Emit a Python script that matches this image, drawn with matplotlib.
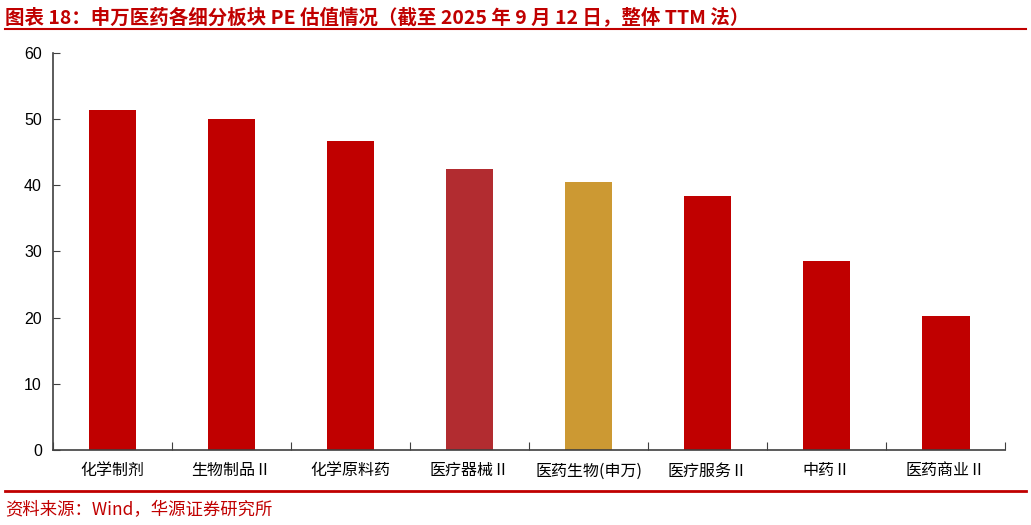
import matplotlib
matplotlib.use('Agg')
import matplotlib.pyplot as plt
from matplotlib.lines import Line2D

plt.rcParams['font.family'] = ['Liberation Sans', 'Noto Sans CJK SC', 'DejaVu Sans']

# données
categories = ['化学制剂', '生物制品Ⅱ', '化学原料药', '医疗器械Ⅱ', '医药生物(申万)', '医疗服务Ⅱ', '中药Ⅱ', '医药商业Ⅱ']
pe_values = [51.4, 50.0, 46.7, 42.4, 40.5, 38.4, 28.5, 20.3]
bar_colors = ['#C00000', '#C00000', '#C00000', '#B22C30', '#CC9933', '#C00000', '#C00000', '#C00000']

title_text = '图表 18：申万医药各细分板块 PE 估值情况（截至 2025 年 9 月 12 日，整体 TTM 法）'
source_text = '资料来源：Wind，华源证券研究所'

fig = plt.figure(figsize=(10.31, 5.25), dpi=100)
ax = fig.add_axes([0.0514, 0.143, 0.9236, 0.756])

x = range(len(categories))
ax.bar(x, pe_values, width=0.4, color=bar_colors, edgecolor='none')

ax.set_xlim(-0.5, len(categories) - 0.5)
ax.set_ylim(0, 60)
ax.set_yticks(range(0, 61, 10))
# graduations majeures entre les catégories, libellés sur les mineures
ax.set_xticks([i + 0.5 for i in range(-1, len(categories))])
ax.set_xticklabels([])
ax.set_xticks(list(x), minor=True)
ax.set_xticklabels(categories, minor=True, fontsize=11.5,
                   family=['Noto Sans CJK SC', 'DejaVu Sans'])
ax.tick_params(axis='x', which='major', direction='in', length=6, color='#404040')
ax.tick_params(axis='x', which='minor', length=0, pad=9)
ax.tick_params(axis='y', direction='in', length=5, labelsize=11.5, color='#404040', pad=8)

for side in ['top', 'right']:
    ax.spines[side].set_visible(False)
for side in ['left', 'bottom']:
    ax.spines[side].set_color('#404040')
    ax.spines[side].set_linewidth(1.2)

# titre et lignes rouges
fig.text(0.005, 0.968, title_text, fontsize=14, fontweight='bold', color='#C00000',
         family=['Noto Sans CJK SC', 'DejaVu Sans'], va='center', ha='left')
fig.add_artist(Line2D([0.005, 0.995], [0.945, 0.945], color='#C00000', lw=1.5))
fig.add_artist(Line2D([0.005, 0.995], [0.065, 0.065], color='#C00000', lw=2))
fig.text(0.005, 0.028, source_text, fontsize=12.5, color='#C00000',
         family=['Noto Sans CJK SC', 'DejaVu Sans'], va='center', ha='left')

fig.savefig('out.png', dpi=100)
